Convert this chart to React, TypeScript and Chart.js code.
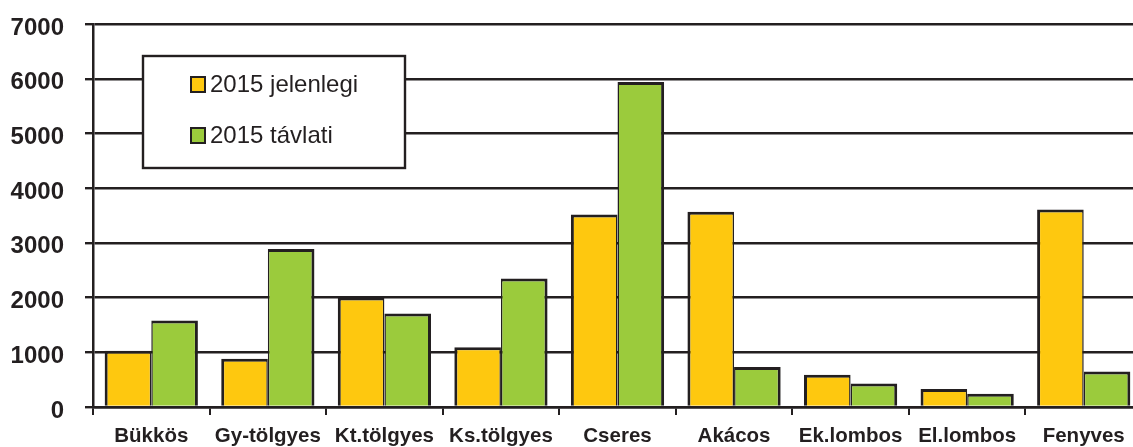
import React, { useEffect, useRef } from "react";
import { Chart, registerables } from "chart.js";

Chart.register(...registerables);

const categories = ["Bükkös", "Gy-tölgyes", "Kt.tölgyes", "Ks.tölgyes", "Cseres", "Akácos", "Ek.lombos", "El.lombos", "Fenyves"];
const seriesNames = ["2015 jelenlegi", "2015 távlati"];
const jelenlegi = [1030, 880, 2000, 1090, 3520, 3570, 590, 330, 3610];
const tavlati = [1580, 2890, 1710, 2350, 5940, 730, 430, 240, 650];
const yTicks = [0, 1000, 2000, 3000, 4000, 5000, 6000, 7000];

const INK = "#231F20";
const YELLOW = "#FEC80F";
const GREEN = "#9BCB3C";
const FONT = "'Liberation Sans', Arial, sans-serif";

const boxLegend = {
  id: "boxLegend",
  afterDraw(chart: any) {
    const ctx = chart.ctx;
    ctx.save();
    const x0 = 143, y0 = 56, w = 262, h = 112;
    ctx.fillStyle = "#ffffff";
    ctx.fillRect(x0, y0, w, h);
    ctx.strokeStyle = INK;
    ctx.lineWidth = 2.4;
    ctx.strokeRect(x0, y0, w, h);
    const rows = [84.5, 135.5];
    chart.data.datasets.forEach((ds: any, i: number) => {
      const cy = rows[i];
      ctx.fillStyle = ds.backgroundColor;
      ctx.fillRect(191, cy - 7.5, 14, 15);
      ctx.lineWidth = 2;
      ctx.strokeStyle = INK;
      ctx.strokeRect(191, cy - 7.5, 14, 15);
      ctx.fillStyle = INK;
      ctx.font = `24px ${FONT}`;
      ctx.textBaseline = "middle";
      ctx.textAlign = "left";
      ctx.fillText(ds.label, 210, cy + 1);
    });
    ctx.restore();
  },
};

export default function App() {
  const ref = useRef<HTMLCanvasElement>(null);
  useEffect(() => {
    if (!ref.current) return;
    const chart = new Chart(ref.current, {
      type: "bar",
      data: {
        labels: categories,
        datasets: [
          {
            label: seriesNames[0],
            data: jelenlegi,
            backgroundColor: YELLOW,
            borderColor: INK,
            borderWidth: { left: 3, top: 3, right: 1.5, bottom: 0 },
            borderSkipped: false,
          },
          {
            label: seriesNames[1],
            data: tavlati,
            backgroundColor: GREEN,
            borderColor: INK,
            borderWidth: { left: 1.5, top: 3, right: 3, bottom: 0 },
            borderSkipped: false,
          },
        ],
      },
      options: {
        responsive: false,
        animation: false,
        layout: { padding: { top: 24, left: 0, right: 0, bottom: 0 } },
        plugins: {
          legend: { display: false },
          tooltip: { enabled: false },
          title: { display: false },
        },
        datasets: { bar: { categoryPercentage: 0.8, barPercentage: 1 } },
        scales: {
          x: {
            offset: true,
            grid: {
              offset: true,
              drawOnChartArea: false,
              drawTicks: true,
              tickLength: 8,
              color: INK,
              lineWidth: 2,
            },
            border: { display: true, color: INK, width: 2.5 },
            ticks: {
              color: INK,
              font: { family: FONT, size: 20.5, weight: "bold" },
              padding: 9,
              maxRotation: 0,
              autoSkip: false,
            },
            afterFit(scale: any) {
              scale.height = 40;
              scale.paddingLeft = 0;
              scale.paddingRight = 0;
            },
          },
          y: {
            min: 0,
            max: 7000,
            afterBuildTicks(scale: any) {
              scale.ticks = yTicks.map((v) => ({ value: v }));
            },
            grid: {
              color: INK,
              lineWidth: 2.4,
              drawTicks: true,
              tickLength: 8,
            },
            border: { display: true, color: INK, width: 2.5 },
            ticks: {
              color: INK,
              font: { family: FONT, size: 24, weight: "bold" },
              padding: 21,
              labelOffset: 4,
              callback: (v: any) => String(v),
            },
            afterFit(scale: any) {
              scale.width = 93;
              scale.paddingTop = 0;
              scale.paddingBottom = 0;
            },
          },
        },
      },
      plugins: [boxLegend],
    });
    return () => chart.destroy();
  }, []);
  return (
    <div style={{ position: "fixed", left: 0, top: 0, width: 1133, height: 447, overflow: "hidden", background: "#fff" }}>
      <canvas ref={ref} width={1142} height={447} style={{ width: 1142, height: 447, display: "block" }} />
    </div>
  );
}
